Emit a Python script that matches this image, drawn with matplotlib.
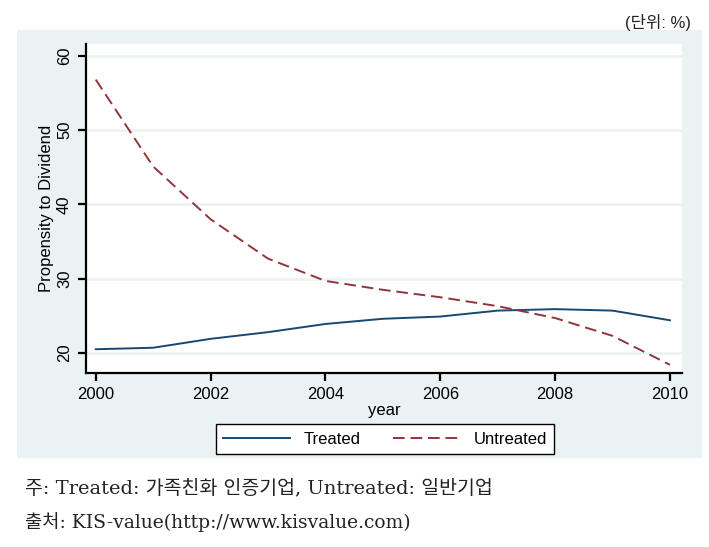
import matplotlib.pyplot as plt
from matplotlib.patches import Rectangle

# data
years = [2000, 2001, 2002, 2003, 2004, 2005, 2006, 2007, 2008, 2009, 2010]
treated = [20.5, 20.7, 21.9, 22.8, 23.9, 24.6, 24.9, 25.7, 25.9, 25.7, 24.4]
untreated = [56.8, 45.1, 38.0, 32.7, 29.7, 28.5, 27.5, 26.3, 24.7, 22.3, 18.4]
yticks = [20, 30, 40, 50, 60]
xticks = [2000, 2002, 2004, 2006, 2008, 2010]

bg = '#EAF2F3'
navy = '#1A476F'
maroon = '#90353B'
sans = ['Liberation Sans', 'Noto Sans CJK KR']
serif = ['DejaVu Serif', 'Noto Sans CJK KR']

fig = plt.figure(figsize=(7.09, 5.47), dpi=100)
fig.patch.set_facecolor('white')

# Stata-style graph region
region = Rectangle((0.024, 0.1627), 0.966, 0.7825, transform=fig.transFigure,
                   facecolor=bg, edgecolor='none', zorder=-10)
fig.add_artist(region)

ax = fig.add_axes([0.1213, 0.3181, 0.8406, 0.6015])
ax.set_facecolor('white')

ax.plot(years, treated, color=navy, lw=1.4, label='Treated')
ax.plot(years, untreated, color=maroon, lw=1.4, dashes=(6, 3), label='Untreated')

ax.set_xlim(1999.83, 2010.21)
ax.set_ylim(17.3, 61.6)
ax.set_xticks(xticks)
ax.set_yticks(yticks)
ax.grid(axis='y', color=bg, lw=1.8)
ax.set_axisbelow(True)

for s in ['top', 'right']:
    ax.spines[s].set_visible(False)
for s in ['left', 'bottom']:
    ax.spines[s].set_linewidth(1.6)
    ax.spines[s].set_color('black')

ax.tick_params(direction='out', length=6, width=1.6, colors='black',
               labelsize=12, pad=4)
for lab in ax.get_xticklabels() + ax.get_yticklabels():
    lab.set_family(sans)
for lab in ax.get_yticklabels():
    lab.set_rotation(90)
    lab.set_va('center')

ax.set_xlabel('year', fontsize=12, family=sans, labelpad=1)
ax.set_ylabel('Propensity to Dividend', fontsize=12, family=sans, labelpad=2)

leg = ax.legend(loc='center', bbox_to_anchor=(0.543, 0.1974),
                bbox_transform=fig.transFigure, ncol=2,
                handlelength=4.0, columnspacing=2.0, frameon=True,
                fancybox=False, borderpad=0.45, prop={'family': sans, 'size': 12})
leg.get_frame().set_edgecolor('black')
leg.get_frame().set_linewidth(1.0)
leg.get_frame().set_facecolor('white')
leg.get_frame().set_alpha(1)

fig.text(0.975, 0.975, '(단위: %)', ha='right', va='top', fontsize=12,
         family=sans, color='#222222')
fig.text(0.035, 0.108, '주: Treated: 가족친화 인증기업, Untreated: 일반기업',
         ha='left', va='center', fontsize=14, family=serif, color='#222222')
fig.text(0.035, 0.046, '출처: KIS-value(http://www.kisvalue.com)',
         ha='left', va='center', fontsize=13.5, family=serif, color='#222222')

plt.savefig('out.png', dpi=100)
